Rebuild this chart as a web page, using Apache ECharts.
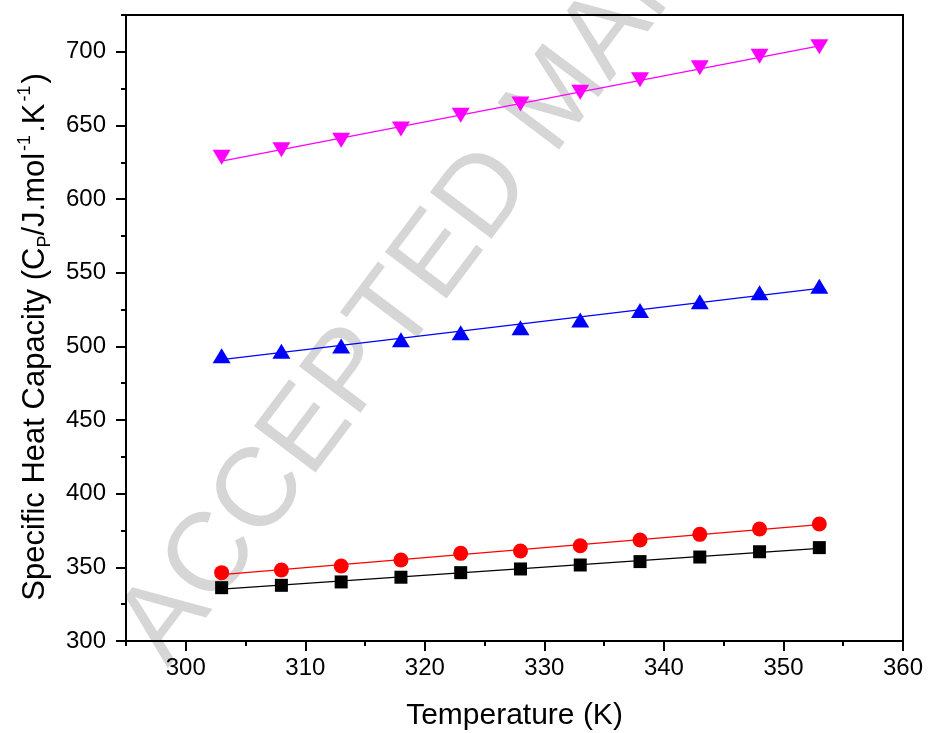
<!DOCTYPE html>
<html>
<head>
<meta charset="utf-8">
<script src="https://cdn.jsdelivr.net/npm/echarts@6/dist/echarts.min.js"></script>
<style>
html, body { margin: 0; padding: 0; background: #fff; }
#chart { width: 928px; height: 733px; }
</style>
</head>
<body>
<div id="chart"></div>
<script>
// data
var temps = [303, 308, 313, 318, 323, 328, 333, 338, 343, 348, 353];
var cpBlack = [336.2, 337.8, 340.1, 343.3, 346.4, 348.9, 351.6, 353.9, 357.0, 360.6, 363.4];
var cpRed = [346.4, 348.2, 350.9, 355.0, 359.5, 361.1, 364.7, 368.6, 372.4, 376.0, 379.4];
var cpBlue = [493.7, 496.8, 500.2, 504.5, 509.3, 512.7, 518.0, 524.4, 530.4, 536.4, 540.8];
var cpMagenta = [628.4, 633.5, 640.0, 647.6, 657.0, 664.5, 672.5, 681.1, 689.2, 697.0, 703.5];

var xMajor = [300, 310, 320, 330, 340, 350, 360];
var yMajor = [300, 350, 400, 450, 500, 550, 600, 650, 700];

var font = 'Arial, "Liberation Sans", sans-serif';

function pairs(xs, ys) {
	var out = [];
	for (var i = 0; i < xs.length; i++) out.push([xs[i], ys[i]]);
	return out;
}

// straight line fit, drawn from first to last temperature
function linFit(xs, ys) {
	var n = xs.length, sx = 0, sy = 0, sxx = 0, sxy = 0;
	for (var i = 0; i < n; i++) {
		sx += xs[i]; sy += ys[i];
		sxx += xs[i] * xs[i]; sxy += xs[i] * ys[i];
	}
	var b = (n * sxy - sx * sy) / (n * sxx - sx * sx);
	var a = (sy - b * sx) / n;
	var x0 = xs[0], x1 = xs[n - 1];
	return [[x0, a + b * x0], [x1, a + b * x1]];
}

var groups = [
	{ name: 'black', data: cpBlack, color: '#000000', symbol: 'rect', size: 13, rot: 0 },
	{ name: 'red', data: cpRed, color: '#ff0000', symbol: 'circle', size: 15, rot: 0 },
	{ name: 'blue', data: cpBlue, color: '#0000ff', symbol: 'triangle', size: [18, 15], rot: 0 },
	{ name: 'magenta', data: cpMagenta, color: '#ff00ff', symbol: 'triangle', size: [18, 15], rot: 180 }
];

var series = [];
groups.forEach(function(g) {
	series.push({
		name: g.name + ' fit',
		type: 'line',
		data: linFit(temps, g.data),
		symbol: 'none',
		lineStyle: { color: g.color, width: 1.3 },
		z: 2,
		animation: false
	});
	series.push({
		name: g.name,
		type: 'scatter',
		data: pairs(temps, g.data),
		symbol: g.symbol,
		symbolSize: g.size,
		symbolRotate: g.rot,
		itemStyle: { color: g.color, opacity: 1 },
		z: 3,
		animation: false
	});
});

var axisLineStyle = { color: '#000', width: 2 };

var myChart = echarts.init(document.getElementById('chart'));
var option = {
	backgroundColor: '#fff',
	animation: false,
	grid: { left: 126, right: 25, top: 15, bottom: 92, containLabel: false, outerBoundsMode: 'none' },
	graphic: [{
		type: 'text',
		x: 143,
		y: 650,
		rotation: 53 * Math.PI / 180,
		z: -10,
		silent: true,
		style: {
			text: 'ACCEPTED MANUSCRIPT',
			fontSize: 112,
			fontFamily: font,
			fill: '#d6d6d6',
			align: 'left',
			verticalAlign: 'middle'
		}
	}],
	xAxis: [{
		type: 'value',
		position: 'bottom',
		min: 295, max: 360, interval: 5,
		name: 'Temperature (K)',
		nameLocation: 'middle',
		nameGap: 60,
		nameTextStyle: { fontSize: 30, fontFamily: font, color: '#000' },
		axisLine: { onZero: false, lineStyle: axisLineStyle },
		axisTick: { length: 5, lineStyle: { color: '#000', width: 2 } },
		axisLabel: {
			fontSize: 24, fontFamily: font, color: '#000', margin: 15,
			formatter: function(v) { return v % 10 === 0 ? String(v) : ''; }
		},
		splitLine: { show: false }
	}, {
		type: 'value',
		position: 'bottom',
		min: 295, max: 360, interval: 5,
		axisLine: { show: false, onZero: false },
		axisTick: { length: 10, customValues: xMajor, lineStyle: { color: '#000', width: 2 } },
		axisLabel: { show: false },
		splitLine: { show: false }
	}, {
		type: 'value',
		position: 'top',
		min: 295, max: 360, interval: 5,
		axisLine: { onZero: false, lineStyle: axisLineStyle },
		axisTick: { show: false },
		axisLabel: { show: false },
		splitLine: { show: false }
	}],
	yAxis: [{
		type: 'value',
		position: 'left',
		min: 300, max: 725, interval: 25,
		name: 'Specific Heat Capacity (C{sub|P}/J.mol{sup|-1}.K{sup|-1})',
		nameLocation: 'middle',
		nameGap: 72,
		nameTextStyle: {
			fontSize: 31, fontFamily: font, color: '#000', lineHeight: 38,
			padding: [0, 18, 0, 0],
			rich: {
				sub: { fontSize: 18, fontFamily: font, color: '#000', verticalAlign: 'bottom', lineHeight: 18 },
				sup: { fontSize: 18, fontFamily: font, color: '#000', verticalAlign: 'top', lineHeight: 18, padding: [0, 2, 0, 2] }
			}
		},
		axisLine: { onZero: false, lineStyle: axisLineStyle },
		axisTick: { length: 5, lineStyle: { color: '#000', width: 2 } },
		axisLabel: {
			fontSize: 24, fontFamily: font, color: '#000', margin: 20,
			formatter: function(v) { return v % 50 === 0 ? String(v) : ''; }
		},
		splitLine: { show: false }
	}, {
		type: 'value',
		position: 'left',
		min: 300, max: 725, interval: 25,
		axisLine: { show: false, onZero: false },
		axisTick: { length: 10, customValues: yMajor, lineStyle: { color: '#000', width: 2 } },
		axisLabel: { show: false },
		splitLine: { show: false }
	}, {
		type: 'value',
		position: 'right',
		min: 300, max: 725, interval: 25,
		axisLine: { onZero: false, lineStyle: axisLineStyle },
		axisTick: { show: false },
		axisLabel: { show: false },
		splitLine: { show: false }
	}],
	series: series
};
myChart.setOption(option);
window.addEventListener('resize', function() {
	myChart.resize();
});
</script>
</body>
</html>
